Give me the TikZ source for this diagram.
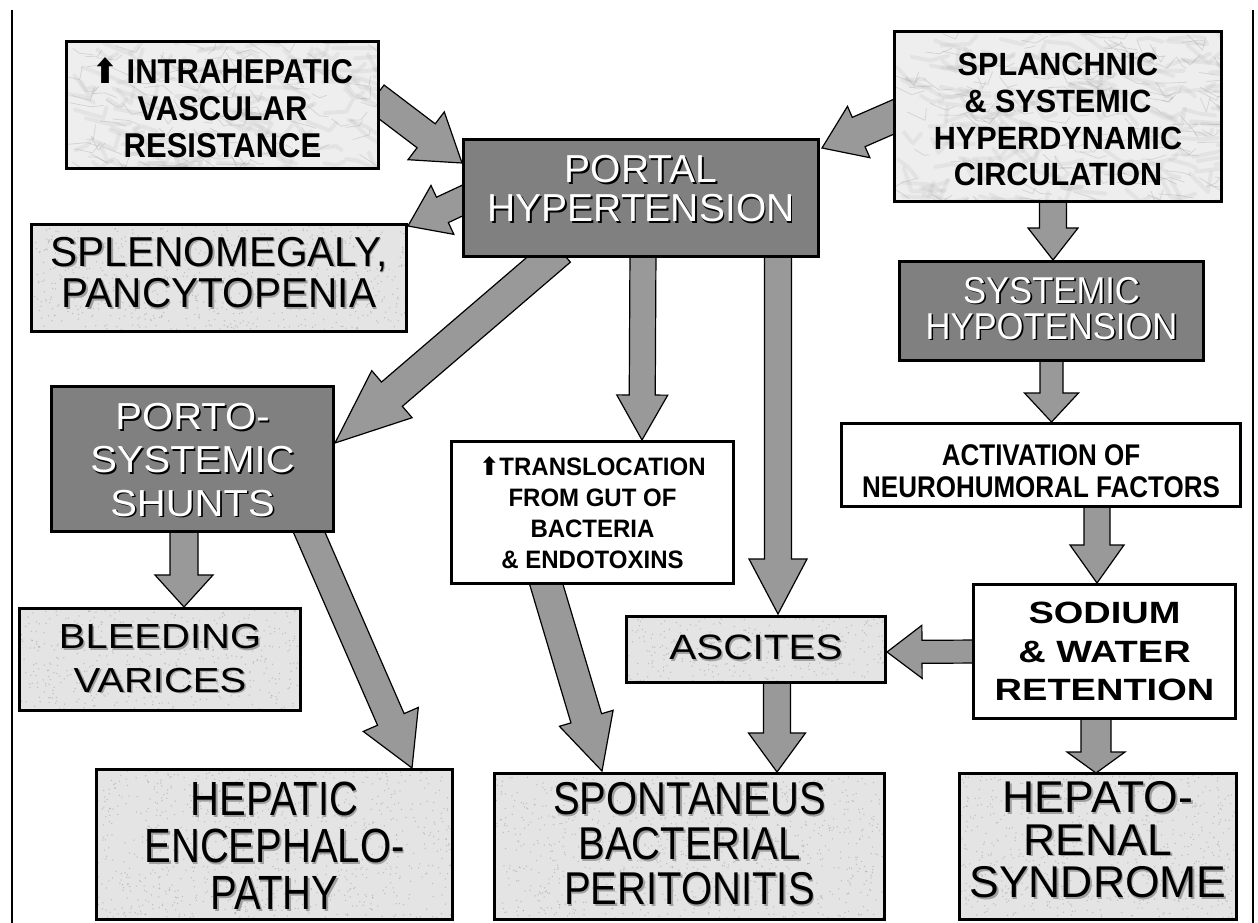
\documentclass[tikz,border=0pt]{standalone}
\usepackage{fontspec}
\setmainfont{Liberation Sans}
\newfontfamily\djv{DejaVu Sans}
\usepackage{graphicx}
\usetikzlibrary{calc}

\newcommand\tb[1]{\begin{tabular}{@{}c@{}}#1\end{tabular}}
% #1 vertical shift (down), #2 y-scale, #3 shadow colour, #4 text colour, #5 text
\newcommand\shtxt[5]{\raisebox{-#1}[\height][\depth]{\scalebox{1}[#2]{\rlap{\hspace*{1.6pt}\raisebox{-1.6pt}{\color{#3}\tb{#5}}}{\color{#4}\tb{#5}}}}}
% #1 vertical shift (down), #2 y-scale, #3 text
\newcommand\pltxt[3]{\raisebox{-#1}[\height][\depth]{\scalebox{1}[#2]{\tb{#3}}}}
\newcommand\uparr{{\djv\bfseries ⬆}}

\newcommand\barrow[5]{%
  \coordinate (bh) at ($(#2)!#5!(#1)$);
  \draw[blockarrow] ($(#1)!#3!90:(#2)$) -- ($(bh)!#3!90:(#2)$) -- ($(bh)!#4!90:(#2)$) -- (#2) -- ($(bh)!#4!-90:(#2)$) -- ($(bh)!#3!-90:(#2)$) -- ($(#1)!#3!-90:(#2)$) -- cycle;}

\newcommand\stipdots[1]{%
  \foreach \k in {1,...,#1}{%
    \fill[stipdot] let \p1=(path picture bounding box.south west), \p2=(path picture bounding box.north east) in
      ({\x1+rnd*(\x2-\x1)},{\y1+rnd*(\y2-\y1)}) circle (0.75pt);}}
\newcommand\marbleveins[1]{%
  \foreach \k in {1,...,#1}{%
    \draw[marblesoft] let \p1=(path picture bounding box.south west), \p2=(path picture bounding box.north east) in
      ({\x1+rnd*(\x2-\x1)},{\y1+rnd*(\y2-\y1)}) -- ++({20+rand*35}:{8+rnd*24}) -- ++({-20+rand*60}:{5+rnd*16});
    \draw[marblevein] let \p1=(path picture bounding box.south west), \p2=(path picture bounding box.north east) in
      ({\x1+rnd*(\x2-\x1)},{\y1+rnd*(\y2-\y1)}) -- ++({20+rand*35}:{6+rnd*18}) -- ++({-20+rand*60}:{4+rnd*12});}}

\definecolor{arrowgray}{HTML}{999999}
\definecolor{darkbox}{HTML}{808080}
\definecolor{marblegray}{HTML}{EEEEEE}
\definecolor{stipgray}{HTML}{E4E4E4}
\definecolor{txtshadow}{HTML}{A0A0A0}

\tikzset{
  blockarrow/.style={draw=black, line width=1.2pt, fill=arrowgray, line join=miter},
  boxbase/.style={draw=black, line width=3pt, inner sep=0pt, rectangle},
  stipdot/.style={fill=black!35, fill opacity=0.6},
  marblevein/.style={draw=black!40, line width=0.8pt, draw opacity=0.3, line cap=round, line join=round},
  marblesoft/.style={draw=black!40, line width=4pt, draw opacity=0.12, line cap=round, line join=round},
  marble/.style={boxbase, fill=marblegray, path picture={\marbleveins{#1}}},
  stipple/.style={boxbase, fill=stipgray, path picture={\stipdots{#1}}},
  darkb/.style={boxbase, fill=darkbox},
  whiteb/.style={boxbase, fill=white},
  frameline/.style={draw=black, line width=2pt}
}

\begin{document}
\begin{tikzpicture}[x=1pt,y=-1pt]
\pgfmathsetseed{7}
\useasboundingbox (0,0) rectangle (1258,923);
\fill[white] (0,0) rectangle (1258,923);

% frame lines
\coordinate (fl1) at (12,10);
\coordinate (fl2) at (12,923);
\coordinate (fr1) at (1253,10);
\coordinate (fr2) at (1253,923);
\draw[frameline] (fl1) -- (fl2);
\draw[frameline] (fr1) -- (fr2);

% box positions (centres)
\coordinate (cIntra) at (222.5,105);
\coordinate (cPortal) at (641,198);
\coordinate (cSplanch) at (1058,116.5);
\coordinate (cSplen) at (219,278);
\coordinate (cHypo) at (1051.5,311);
\coordinate (cActiv) at (1041,465);
\coordinate (cShunts) at (192.5,459);
\coordinate (cTransl) at (592.5,512.5);
\coordinate (cBleed) at (160,659.5);
\coordinate (cAscites) at (756,649.5);
\coordinate (cSodium) at (1104.5,651.5);
\coordinate (cHepenc) at (274.5,844.5);
\coordinate (cSbp) at (689.5,846.5);
\coordinate (cHepren) at (1098,846.5);

% arrow end points
\coordinate (a1s) at (375,97);
\coordinate (a1e) at (462,163);
\coordinate (a2s) at (900,114);
\coordinate (a2e) at (822,148);
\coordinate (a3s) at (470,197);
\coordinate (a3e) at (408,226);
\coordinate (a4s) at (560,250);
\coordinate (a4e) at (335,443);
\coordinate (a5s) at (643,250);
\coordinate (a5e) at (642,440);
\coordinate (a6s) at (778,250);
\coordinate (a6e) at (778,614);
\coordinate (a7s) at (1053,198);
\coordinate (a7e) at (1053,260);
\coordinate (a8s) at (1051.5,355);
\coordinate (a8e) at (1051.5,422);
\coordinate (a9s) at (1097,500);
\coordinate (a9e) at (1097,583);
\coordinate (a10s) at (980,651.5);
\coordinate (a10e) at (887,652);
\coordinate (a11s) at (777,680);
\coordinate (a11e) at (777,772);
\coordinate (a12s) at (1096,715);
\coordinate (a12e) at (1096,773);
\coordinate (a13s) at (184,528);
\coordinate (a13e) at (184,607);
\coordinate (a14s) at (306,525);
\coordinate (a14e) at (412,768);
\coordinate (a15s) at (545,580);
\coordinate (a15e) at (602,771);

% arrows
\barrow{a1s}{a1e}{15pt}{30pt}{45pt}
\barrow{a2s}{a2e}{16pt}{28pt}{40pt}
\barrow{a3s}{a3e}{14pt}{27pt}{38pt}
\barrow{a4s}{a4e}{16pt}{31pt}{75pt}
\barrow{a5s}{a5e}{13pt}{25.5pt}{45pt}
\barrow{a6s}{a6e}{13.5pt}{29pt}{55pt}
\barrow{a7s}{a7e}{13.5pt}{25pt}{32pt}
\barrow{a8s}{a8e}{11.5pt}{27pt}{29pt}
\barrow{a9s}{a9e}{13pt}{27pt}{38pt}
\barrow{a10s}{a10e}{11.5pt}{26.5pt}{35pt}
\barrow{a11s}{a11e}{13.5pt}{28.5pt}{39pt}
\barrow{a12s}{a12e}{15pt}{29pt}{21pt}
\barrow{a13s}{a13e}{14pt}{29pt}{32pt}
\barrow{a14s}{a14e}{14.5pt}{30pt}{53pt}
\barrow{a15s}{a15e}{16pt}{28pt}{55pt}

% boxes
\node[marble=110, minimum width=312pt, minimum height=127pt,
  font=\bfseries\fontsize{31}{33}\selectfont] (intra) at (cIntra)
  {\pltxt{8pt}{1.11}{\uparr\ INTRAHEPATIC\\VASCULAR\\RESISTANCE}};

\node[darkb, minimum width=355pt, minimum height=117pt,
  font=\fontsize{39}{39}\selectfont] (portal) at (cPortal)
  {\shtxt{-3pt}{1}{black}{white}{PORTAL\\HYPERTENSION}};

\node[marble=150, minimum width=327pt, minimum height=170pt,
  font=\bfseries\fontsize{30.6}{35}\selectfont] (splanch) at (cSplanch)
  {\pltxt{7pt}{1.05}{SPLANCHNIC\\\& SYSTEMIC\\HYPERDYNAMIC\\CIRCULATION}};

\node[stipple=700, minimum width=375pt, minimum height=107pt,
  font=\fontsize{40.6}{39}\selectfont] (splen) at (cSplen)
  {\shtxt{1pt}{1.03}{txtshadow}{black}{SPLENOMEGALY,\\PANCYTOPENIA}};

\node[darkb, minimum width=304pt, minimum height=99pt,
  font=\fontsize{34.6}{30.5}\selectfont] (hypo) at (cHypo)
  {\shtxt{3pt}{1.08}{black}{white}{SYSTEMIC\\HYPOTENSION}};

\node[whiteb, minimum width=399pt, minimum height=83pt,
  font=\bfseries\fontsize{26}{28.5}\selectfont] (activ) at (cActiv)
  {\pltxt{10pt}{1.15}{ACTIVATION OF\\NEUROHUMORAL FACTORS}};

\node[darkb, minimum width=282pt, minimum height=145pt,
  font=\fontsize{40}{46}\selectfont] (shunts) at (cShunts)
  {\shtxt{6pt}{0.94}{black}{white}{PORTO-\\SYSTEMIC\\SHUNTS}};

\node[whiteb, minimum width=282pt, minimum height=142pt,
  font=\bfseries\fontsize{24}{29.5}\selectfont] (transl) at (cTransl)
  {\pltxt{3pt}{1.05}{\uparr TRANSLOCATION\\FROM GUT OF\\BACTERIA\\\& ENDOTOXINS}};

\node[stipple=500, minimum width=281pt, minimum height=102pt,
  font=\fontsize{40}{50}\selectfont] (bleed) at (cBleed)
  {\shtxt{3pt}{0.87}{txtshadow}{black}{BLEEDING\\VARICES}};

\node[stipple=300, minimum width=259pt, minimum height=66pt,
  font=\fontsize{40.5}{46}\selectfont] (ascites) at (cAscites)
  {\shtxt{3pt}{0.87}{txtshadow}{black}{ASCITES}};

\node[whiteb, minimum width=262pt, minimum height=134pt,
  font=\bfseries\fontsize{38}{47.5}\selectfont] (sodium) at (cSodium)
  {\pltxt{3pt}{0.81}{SODIUM\\\& WATER\\RETENTION}};

\node[stipple=900, minimum width=356pt, minimum height=150pt,
  font=\fontsize{40}{38}\selectfont] (hepenc) at (cHepenc)
  {\shtxt{9pt}{1.2}{txtshadow}{black}{HEPATIC\\ENCEPHALO-\\PATHY}};

\node[stipple=950, minimum width=390pt, minimum height=146pt,
  font=\fontsize{40}{37.4}\selectfont] (sbp) at (cSbp)
  {\shtxt{4pt}{1.15}{txtshadow}{black}{SPONTANEUS\\BACTERIAL\\PERITONITIS}};

\node[stipple=700, minimum width=277pt, minimum height=146pt,
  font=\fontsize{44.5}{39}\selectfont] (hepren) at (cHepren)
  {\shtxt{0pt}{1.0}{txtshadow}{black}{HEPATO-\\RENAL\\SYNDROME}};

\end{tikzpicture}
\end{document}
